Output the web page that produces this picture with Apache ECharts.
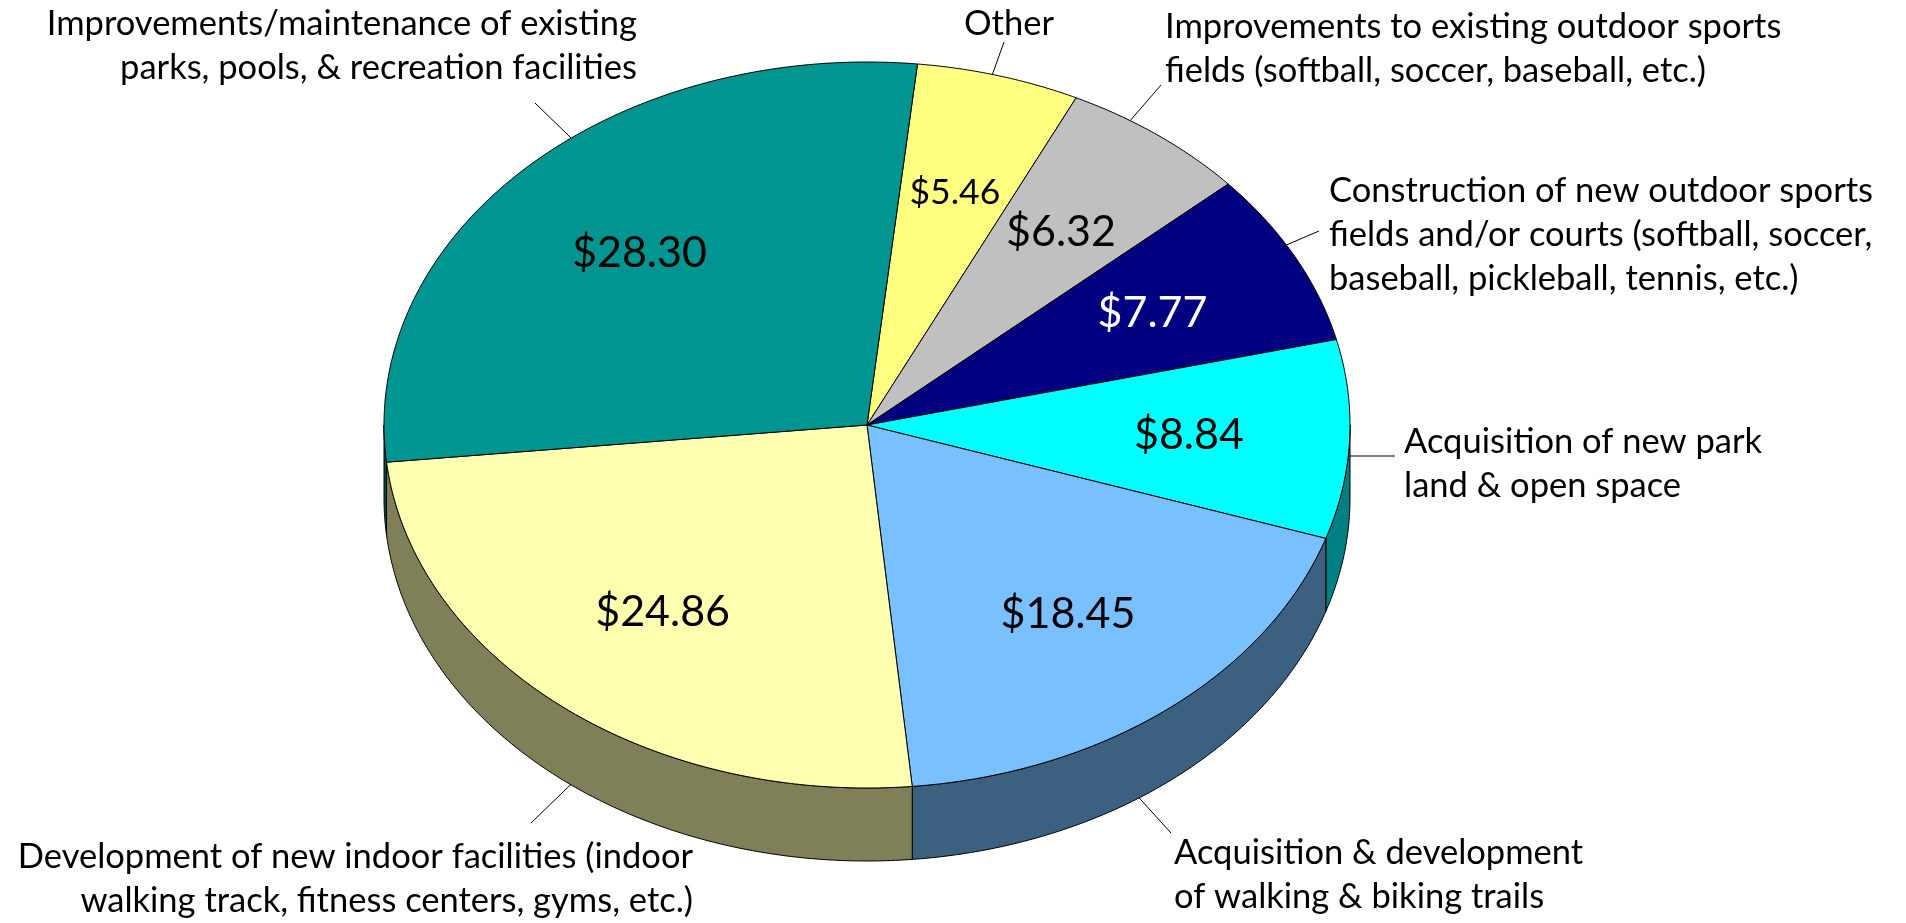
<!DOCTYPE html>
<html><head><meta charset="utf-8">
<script src="https://cdn.jsdelivr.net/npm/echarts/dist/echarts.min.js"></script>
<style>html,body{margin:0;padding:0;background:#fff}#c{width:1906px;height:923px}</style>
</head><body><div id="c"></div>
<script>
// ---- data (clockwise order, starting with "Other") ----
const categories = [
  'Other',
  'Improvements to existing outdoor sports\nfields (softball, soccer, baseball, etc.)',
  'Construction of new outdoor sports\nfields and/or courts (softball, soccer,\nbaseball, pickleball, tennis, etc.)',
  'Acquisition of new park\nland & open space',
  'Acquisition & development\nof walking & biking trails',
  'Development of new indoor facilities (indoor\nwalking track, fitness centers, gyms, etc.)',
  'Improvements/maintenance of existing\nparks, pools, & recreation facilities'
];
const values = [5.46, 6.32, 7.77, 8.84, 18.45, 24.86, 28.30];
const valueLabels = ['$5.46', '$6.32', '$7.77', '$8.84', '$18.45', '$24.86', '$28.30'];

// ---- styles / layout ----
const topColors  = ['#FFFF80', '#C0C0C0', '#000080', '#00FFFF', '#78C0FF', '#FFFFB0', '#009591'];
const sideColors = ['#808040', '#606060', '#000040', '#008080', '#3C607F', '#7F7F58', '#004A48'];
const valueColors = ['#000', '#000', '#fff', '#000', '#000', '#000', '#000'];
const valueFontSizes = [35.5, 43, 43, 43, 43, 43, 43];
const PIE = {cx: 867, cy: 425, rx: 483, ry: 363, depth: 73, startAngle: 6, labelR: 0.667};
const FONT = 'Lato, "Noto Sans", sans-serif';
const CAT_FONT_SIZE = 34.5, CAT_LINE_H = 44;
// label placement: leader end point, text anchor (first line centre)
const labelLayout = [
  {end: [1004, 42],  x: 1009, y: 24,  align: 'center'},
  {end: [1161, 85],  x: 1165, y: 27,  align: 'left'},
  {end: [1319, 231], x: 1329, y: 191, align: 'left'},
  {end: [1395, 456], x: 1404, y: 442, align: 'left'},
  {end: [1171, 833], x: 1174, y: 853, align: 'left'},
  {end: [531, 823],  x: 693,  y: 857, align: 'right'},
  {end: [535, 103],  x: 637,  y: 24,  align: 'right'}
];

const total = values.reduce((a, b) => a + b, 0);
const starts = [];
(function () { let acc = 0; values.forEach(v => { starts.push(PIE.startAngle + acc / total * 360); acc += v; }); })();
function span(i) { return [starts[i], starts[i] + values[i] / total * 360]; }
const rad = d => d * Math.PI / 180;
function pt(theta, r, dy) {
  return [PIE.cx + PIE.rx * r * Math.sin(rad(theta)), PIE.cy - PIE.ry * r * Math.cos(rad(theta)) + (dy || 0)];
}
function arc(a0, a1, dy) {
  const n = Math.max(2, Math.ceil(Math.abs(a1 - a0) / 0.5));
  const p = [];
  for (let k = 0; k <= n; k++) p.push(pt(a0 + (a1 - a0) * k / n, 1, dy));
  return p;
}
function inFront(t) { t = ((t % 360) + 360) % 360; return t > 90 && t < 270; }
function angleTo(x, y, cy) {
  const nx = (x - PIE.cx) / PIE.rx, ny = (y - cy) / PIE.ry;
  let t = Math.atan2(nx, -ny) * 180 / Math.PI;
  return (t + 360) % 360;
}

function renderSides(params, api) {
  const i = params.dataIndex;
  const [a, b] = span(i);
  const children = [];
  [[90, 270], [450, 630]].forEach(([lo, hi]) => {
    const s = Math.max(a, lo), e = Math.min(b, hi);
    if (e > s) {
      const pts = arc(s, e, 0).concat(arc(e, s, PIE.depth));
      children.push({type: 'polygon', shape: {points: pts},
        style: {fill: sideColors[i], stroke: '#000', lineWidth: 1}});
    }
  });
  return {type: 'group', children};
}

function renderTops(params, api) {
  const i = params.dataIndex;
  const [a, b] = span(i);
  const pts = [[PIE.cx, PIE.cy]].concat(arc(a, b, 0));
  const mid = (a + b) / 2;
  const lp = pt(mid, PIE.labelR, 0);
  return {type: 'group', children: [
    {type: 'polygon', shape: {points: pts}, style: {fill: topColors[i], stroke: '#000', lineWidth: 1}},
    {type: 'text', z2: 10, style: {text: valueLabels[i], x: lp[0], y: lp[1], fill: valueColors[i],
      fontSize: valueFontSizes[i], fontFamily: FONT, align: 'center', verticalAlign: 'middle'}}
  ]};
}

function renderLabels(params, api) {
  const i = params.dataIndex;
  const L = labelLayout[i];
  const [ex, ey] = L.end;
  let t = angleTo(ex, ey, PIE.cy);
  let start;
  if (!inFront(t)) start = pt(t, 1, 0);
  else {
    const tb = angleTo(ex, ey, PIE.cy + PIE.depth);
    if (inFront(tb)) start = pt(tb, 1, PIE.depth);
    else start = [PIE.cx + (ex > PIE.cx ? PIE.rx : -PIE.rx), ey];
  }
  return {type: 'group', children: [
    {type: 'line', shape: {x1: start[0], y1: start[1], x2: ex, y2: ey}, style: {stroke: '#000', lineWidth: 1}},
    {type: 'text', style: {text: categories[i], x: L.x, y: L.y - CAT_LINE_H / 2, fill: '#000',
      fontSize: CAT_FONT_SIZE, fontFamily: FONT, lineHeight: CAT_LINE_H, align: L.align, verticalAlign: 'top'}}
  ]};
}

const chart = echarts.init(document.getElementById('c'), null, {renderer: 'canvas'});
chart.setOption({
  animation: false,
  backgroundColor: '#fff',
  series: [
    {type: 'custom', coordinateSystem: 'none', z: 1, renderItem: renderSides, data: values},
    {type: 'custom', coordinateSystem: 'none', z: 2, renderItem: renderTops, data: values},
    {type: 'custom', coordinateSystem: 'none', z: 3, renderItem: renderLabels, data: values}
  ]
});
</script></body></html>
